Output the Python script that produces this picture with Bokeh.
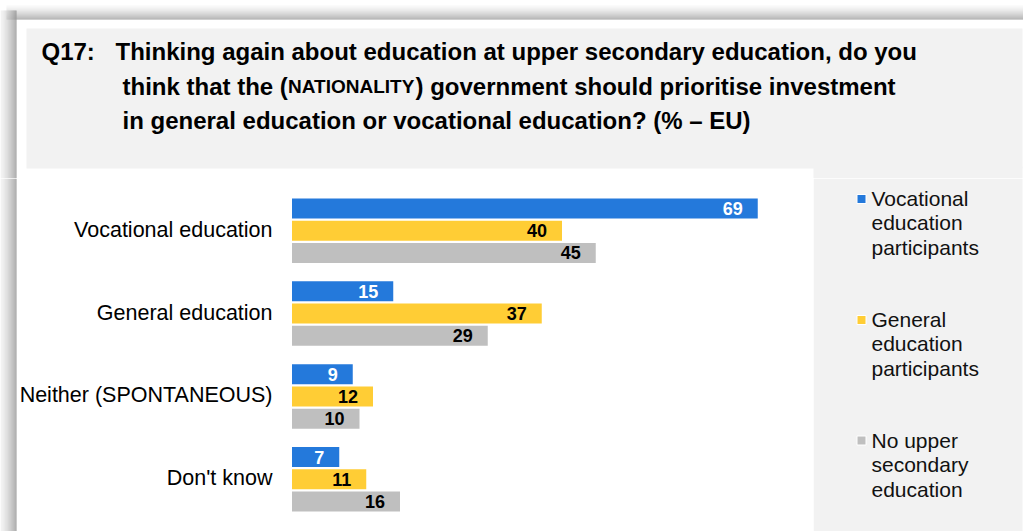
from bokeh.plotting import figure
from bokeh.models import Range1d, FactorRange, ColumnDataSource, BoxAnnotation
from bokeh.layouts import column, row
from bokeh.core.properties import value
from bokeh.embed import file_html
from bokeh.resources import INLINE

# ---------------- data ----------------
categories = ["Vocational education", "General education", "Neither (SPONTANEOUS)", "Don't know"]
series = ["Vocational education participants", "General education participants",
          "No upper secondary education"]
vocational_participants = [69, 15, 9, 7]
general_participants = [40, 37, 12, 11]
no_upper_secondary = [45, 29, 10, 16]
legend_labels = ["Vocational\neducation\nparticipants", "General\neducation\nparticipants",
                 "No upper\nsecondary\neducation"]
question_id = "Q17:"
title_line1 = "Thinking again about education at upper secondary education, do you"
title_line2_parts = ["think that the (", "NATIONALITY", ") government should prioritise investment"]
title_line3 = "in general education or vocational education? (% \u2013 EU)"

# ---------------- styles ----------------
series_colors = ["#2479DB", "#FFCD35", "#BFBFBF"]
label_colors = ["white", "black", "black"]
FONT = value("Liberation Sans")
W, H = 1023, 531
H_TOP = 178
H_BOT = H - H_TOP
W_BARS = 813
PX_PER_UNIT = 6.75
X0 = 291.5


def grey(level):
    v = int(round(level))
    return "#%02x%02x%02x" % (v, v, v)


def base_fig(width, height, **kw):
    p = figure(width=width, height=height, output_backend="svg", toolbar_location=None,
               min_border=0, x_axis_location=None, y_axis_location=None,
               outline_line_color=None, background_fill_color="white",
               border_fill_color="white", **kw)
    p.grid.visible = False
    return p


# ---------------- top figure (title) ----------------
top = base_fig(W, H_TOP, x_range=Range1d(0, W), y_range=Range1d(H_TOP, 0))

n = 14
tl, tr, tt, tb, tc = [], [], [], [], []
for i in range(n):
    tl.append(6); tr.append(W); tt.append(5 + i); tb.append(6 + i)
    tc.append(grey(248 - (248 - 160) * (i / (n - 1)) ** 1.3))
top.quad(left=tl, right=tr, top=tt, bottom=tb, fill_color=tc, line_color=None)

m = 16
ll, lr, lt, lb, lc = [], [], [], [], []
for i in range(m):
    ll.append(i); lr.append(i + 1); lt.append(10); lb.append(H_TOP)
    lc.append(grey(240 - (240 - 150) * (i / (m - 1)) ** 1.3))
top.quad(left=ll, right=lr, top=lt, bottom=lb, fill_color=lc, line_color=None)

top.quad(left=[26], right=[1022], top=[28], bottom=[168], fill_color="#F2F2F2", line_color=None)
top.quad(left=[813], right=[1022], top=[166], bottom=[H_TOP], fill_color="#F2F2F2", line_color=None)

tkw = dict(text_font=FONT, text_font_style="bold", text_color="black",
           text_baseline="alphabetic", text_align="left")
top.text(x=[41], y=[51], text=[question_id], text_font_size="24px", **tkw)
top.text(x=[115], y=[51], text=[title_line1], text_font_size="24px", **tkw)
top.text(x=[122], y=[86], text=[title_line2_parts[0]], text_font_size="24px", **tkw)
top.text(x=[287.5], y=[86], text=[title_line2_parts[1]], text_font_size="19px", **tkw)
top.text(x=[415], y=[86], text=[title_line2_parts[2]], text_font_size="24px", **tkw)
top.text(x=[122], y=[120], text=[title_line3], text_font_size="24px", **tkw)

# ---------------- bottom-left figure (bars) ----------------
factors = [(c, s) for c in reversed(categories) for s in reversed(series)]
yr = FactorRange(factors=factors, factor_padding=0, group_padding=0.733,
                 range_padding=0.851, range_padding_units="absolute")
bot = base_fig(W_BARS, H_BOT, x_range=Range1d(-X0 / PX_PER_UNIT, (W_BARS - X0) / PX_PER_UNIT),
               y_range=yr)
bot.extra_x_ranges = {"px": Range1d(0, W_BARS)}

for i in range(m):
    bot.add_layout(BoxAnnotation(left=i, right=i + 1, x_range_name="px", fill_color=lc[i],
                                 fill_alpha=1, line_color=None, level="underlay"))

all_values = [vocational_participants, general_participants, no_upper_secondary]
for i, (s, vals) in enumerate(zip(series, all_values)):
    src = ColumnDataSource(dict(y=[(c, s) for c in categories], v=vals,
                                t=[str(v) for v in vals]))
    bot.hbar(y="y", left=0, right="v", height=0.9, source=src,
             fill_color=series_colors[i], line_color=None)
    bot.text(x="v", y="y", text="t", source=src, x_offset=-15, text_align="right",
             text_baseline="middle", text_font=FONT, text_font_style="bold",
             text_font_size="18px", text_color=label_colors[i])

bot.text(x=[272] * len(categories), y=categories, text=categories, x_range_name="px",
         y_offset=-1, text_align="right", text_baseline="middle", text_font=FONT,
         text_font_size="21.5px", text_color="black")

# ---------------- bottom-right figure (legend) ----------------
leg = base_fig(W - W_BARS, H_BOT, x_range=Range1d(W_BARS, W), y_range=Range1d(H, H_TOP))
leg.quad(left=[W_BARS], right=[1022], top=[H_TOP], bottom=[H], fill_color="#F2F2F2",
         line_color=None)
marker_y = [198.5, 319.5, 440]
first_baseline = [197.5, 318.5, 439.5]
line_gap = 24.5
leg.scatter(x=[861] * 3, y=marker_y, marker="square", size=9, fill_color=series_colors,
            line_color="white", line_width=1)
for k, lab in enumerate(legend_labels):
    lines = lab.split("\n")
    leg.text(x=[871] * len(lines), y=[first_baseline[k] + j * line_gap for j in range(len(lines))],
             text=lines, text_align="left", text_baseline="alphabetic", text_font=FONT,
             text_font_size="21px", text_color="#111111")

layout = column(top, row(bot, leg, spacing=0), spacing=0)
open("out.html", "w").write(file_html(layout, INLINE))
